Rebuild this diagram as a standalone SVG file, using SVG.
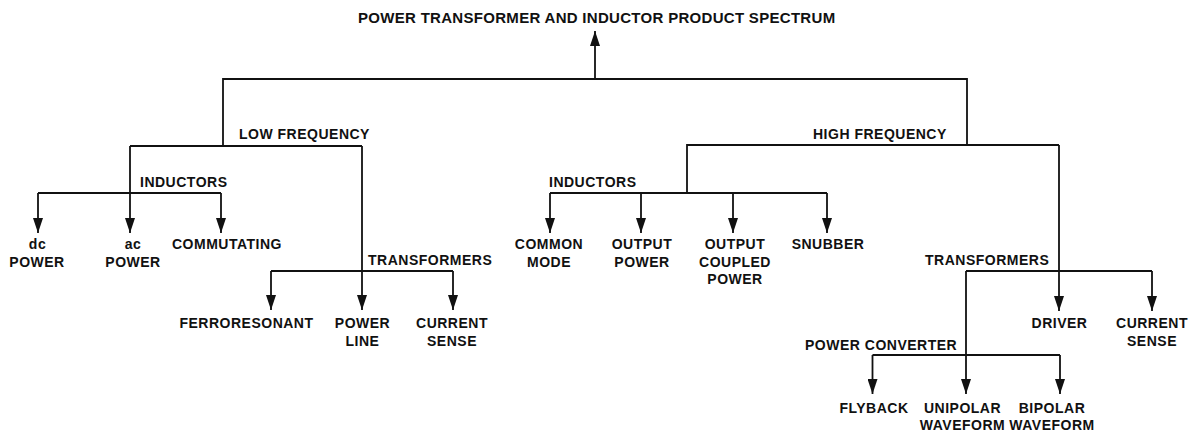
<svg xmlns="http://www.w3.org/2000/svg" width="1201" height="432" viewBox="0 0 1201 432">
<style>
text{font-family:"Liberation Sans",Arial,sans-serif;font-weight:bold;font-size:14px;letter-spacing:0.5px;fill:#111}
.t{font-size:15px;letter-spacing:0.3px}
.m{text-anchor:middle}
.ln{stroke:#111;stroke-width:1.8;fill:none}
.ar{stroke:#111;stroke-width:1.8;fill:none;marker-end:url(#ah)}
</style>
<defs>
<marker id="ah" markerUnits="userSpaceOnUse" markerWidth="15" markerHeight="10" viewBox="0 0 15 10" refX="15" refY="5" orient="auto">
<path d="M0,0 L15,5 L0,10 Z" fill="#111"/>
</marker>
</defs>
<rect width="1201" height="432" fill="#fff"/>
<g id="connectors">
<path class="ar" d="M595,79 V31"/>
<path class="ln" d="M223,146 V79 H967 V145"/>
<path class="ln" d="M130,146 H362"/>
<path class="ar" d="M130,146 V233"/>
<path class="ln" d="M38,193 H221"/>
<path class="ar" d="M38,193 V233"/>
<path class="ar" d="M221,193 V233"/>
<path class="ar" d="M362,146 V310"/>
<path class="ln" d="M271,271 H453"/>
<path class="ar" d="M271,271 V310"/>
<path class="ar" d="M453,271 V310"/>
<path class="ln" d="M687,193 V145 H1059"/>
<path class="ln" d="M550,193 H827"/>
<path class="ar" d="M550,193 V233"/>
<path class="ar" d="M641,193 V233"/>
<path class="ar" d="M733,193 V233"/>
<path class="ar" d="M827,193 V233"/>
<path class="ar" d="M1059,145 V311"/>
<path class="ln" d="M966,271 H1152"/>
<path class="ar" d="M1152,271 V311"/>
<path class="ar" d="M966,271 V394"/>
<path class="ln" d="M872.5,355 H1060"/>
<path class="ar" d="M872.5,355 V394"/>
<path class="ar" d="M1060,355 V394"/>
</g>
<g id="title"><text class="t" x="358" y="22.5">POWER TRANSFORMER AND INDUCTOR PRODUCT SPECTRUM</text></g>
<g id="low-frequency"><text x="239" y="139">LOW FREQUENCY</text></g>
<g id="high-frequency"><text x="813" y="139">HIGH FREQUENCY</text></g>
<g id="lf-inductors"><text x="140" y="187">INDUCTORS</text></g>
<g id="hf-inductors"><text x="549" y="187">INDUCTORS</text></g>
<g id="lf-transformers"><text x="368" y="264.5">TRANSFORMERS</text></g>
<g id="hf-transformers"><text x="925" y="264.5">TRANSFORMERS</text></g>
<g id="power-converter"><text x="805" y="350">POWER CONVERTER</text></g>
<g id="dc-power"><text class="m" x="37.5" y="249">dc</text><text class="m" x="37" y="267">POWER</text></g>
<g id="ac-power"><text class="m" x="133" y="249">ac</text><text class="m" x="133" y="267">POWER</text></g>
<g id="commutating"><text x="172" y="249">COMMUTATING</text></g>
<g id="ferroresonant"><text class="m" x="246.5" y="328">FERRORESONANT</text></g>
<g id="power-line"><text class="m" x="362.5" y="328">POWER</text><text class="m" x="362.5" y="346">LINE</text></g>
<g id="lf-current-sense"><text class="m" x="452" y="328">CURRENT</text><text class="m" x="452" y="346">SENSE</text></g>
<g id="common-mode"><text class="m" x="549" y="249">COMMON</text><text class="m" x="549" y="267">MODE</text></g>
<g id="output-power"><text class="m" x="642" y="249">OUTPUT</text><text class="m" x="642" y="267">POWER</text></g>
<g id="output-coupled-power"><text class="m" x="735" y="249">OUTPUT</text><text class="m" x="735" y="267">COUPLED</text><text class="m" x="735" y="284">POWER</text></g>
<g id="snubber"><text class="m" x="828" y="249">SNUBBER</text></g>
<g id="driver"><text class="m" x="1059.5" y="328">DRIVER</text></g>
<g id="hf-current-sense"><text class="m" x="1152" y="328">CURRENT</text><text class="m" x="1152" y="346">SENSE</text></g>
<g id="flyback"><text class="m" x="874" y="413">FLYBACK</text></g>
<g id="unipolar-waveform"><text class="m" x="962.5" y="413">UNIPOLAR</text><text class="m" x="962.5" y="430">WAVEFORM</text></g>
<g id="bipolar-waveform"><text class="m" x="1052" y="413">BIPOLAR</text><text class="m" x="1052" y="430">WAVEFORM</text></g>
</svg>
